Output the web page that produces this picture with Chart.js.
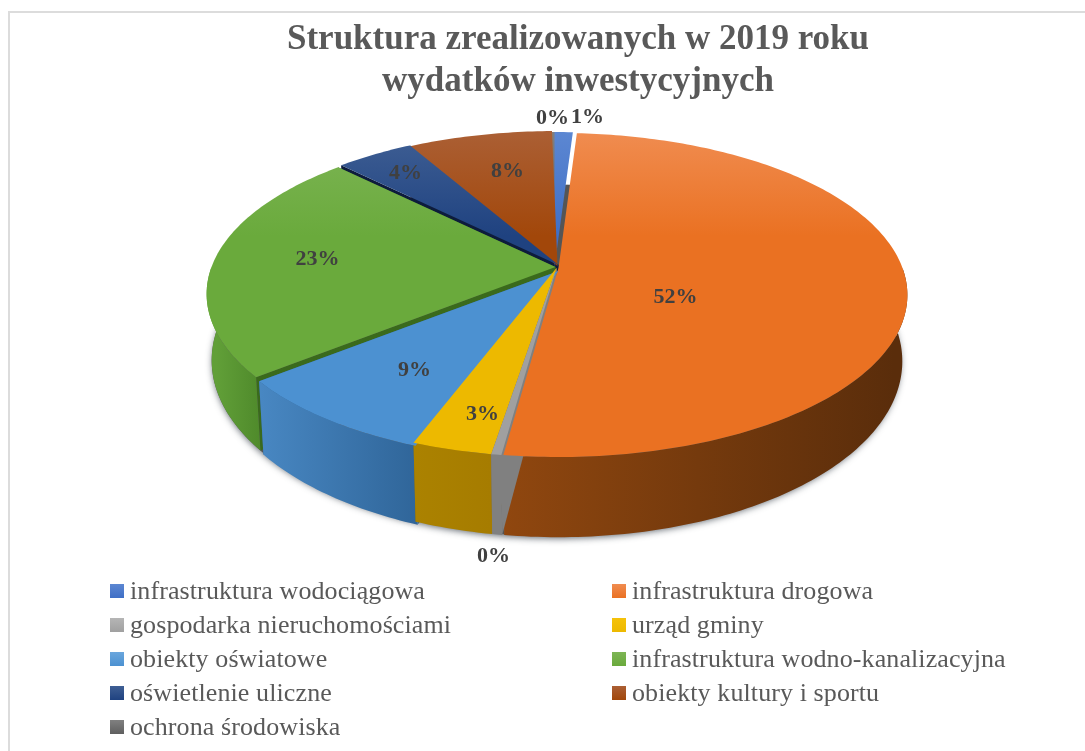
<!DOCTYPE html>
<html lang="pl"><head><meta charset="utf-8">
<style>html,body{margin:0;padding:0;background:#fff}canvas{display:block}</style>
<script src="https://cdn.jsdelivr.net/npm/chart.js@4"></script>
</head><body><canvas id="c" width="1085" height="751"></canvas>
<script>
const categories = ['infrastruktura wodociągowa','infrastruktura drogowa','gospodarka nieruchomościami','urząd gminy','obiekty oświatowe','infrastruktura wodno-kanalizacyjna','oświetlenie uliczne','obiekty kultury i sportu','ochrona środowiska'];
const shares = [1.0, 51.6, 0.4, 3.2, 8.6, 23.49, 4.3, 8.0, 0.3];
const titleLines = ['Struktura zrealizowanych w 2019 roku','wydatków inwestycyjnych'];

// styles
const topLight = ['#5c87d2','#f08c50','#b5b5b5','#f5c20a','#6aa6dd','#7db555','#3f5f94','#ab5f34','#808080'];
const topBase  = ['#3f6fc6','#ea7122','#a0a0a0','#edb900','#4c91d1','#6aaa3c','#1f4280','#a2470a','#5f5f5f'];
const wallLeft = ['#2f5597','#90470f','#808080','#ab8200','#4887c2','#619f38','#1a2f55','#6f3208','#444444'];
const wallRight= ['#2f5597','#5a2d0b','#808080','#a67c00','#30669a','#4f8a2b','#1a2f55','#6f3208','#444444'];
const cutWall  = ['#2a4a85','#7a7a7a','#808080','#8c6a00','#2f6190','#3a6a1c','#0d1c3c','#4f2406','#444444'];
const shift    = [[-1,0],[3,1],[1,1],[1,1],[3,4],[0,0],[3,-2],[2,-1],[0,0]];
const labelAnchor = [[32,-150],[120,30],[-62,289],[-73,147],[-141,103],[-238,-8],[-150,-94],[-48,-96],[-3,-149]];

// perspective of the top and the bottom disc of the drum
const P = 1/6;
const topDisc = {x:555.5, y:267, a:344, b:157.5};
const botDisc = {x:555.5, y:331, a:339, b:171};
const proj = (d,ang,r=1)=>{const u=r*Math.cos(ang),v=r*Math.sin(ang),w=1-P*v;return [d.x+d.a*u/w,d.y+d.b*v/w];};

function trace(ctx,d,a0,a1,dx,dy,first){
  const n=Math.max(2,Math.ceil(Math.abs(a1-a0)*60));
  for(let i=0;i<=n;i++){const p=proj(d,a0+(a1-a0)*i/n);
    if(i===0&&first)ctx.moveTo(p[0]+dx,p[1]+dy);else ctx.lineTo(p[0]+dx,p[1]+dy);}
}

const drum = {
  id:'drum',
  beforeDraw(chart){
    const ctx=chart.ctx;ctx.save();ctx.fillStyle='#dcdcdc';
    ctx.fillRect(8,11,2,740);ctx.fillRect(8,11,1077,2);ctx.restore();
  },
  beforeDatasetsDraw(chart){
    const ctx=chart.ctx, arcs=chart.getDatasetMeta(0).data;
    ctx.save();
    // soft shadow under the drum
    ctx.save();ctx.shadowColor='rgba(40,50,60,.75)';ctx.shadowBlur=7;ctx.shadowOffsetY=2;ctx.shadowOffsetX=1;
    ctx.fillStyle='#555';ctx.beginPath();trace(ctx,botDisc,0,Math.PI*2,0,0,true);ctx.closePath();ctx.fill();ctx.restore();
    ctx.fillStyle='#fff';
    ctx.beginPath();trace(ctx,botDisc,Math.PI,Math.PI*2,0,0,true);ctx.lineTo(...proj(topDisc,0));trace(ctx,topDisc,0,-Math.PI,0,0,false);ctx.closePath();ctx.fill();
    const order=arcs.map((a,i)=>i).sort((i,j)=>{
      const m=k=>Math.sin((arcs[k].startAngle+arcs[k].endAngle)/2);return m(i)-m(j);});
    // side walls
    for(const i of order){
      const {startAngle:s,endAngle:e}=arcs[i];const [dx,dy]=shift[i];
      for(const ang of [s,e]){
        if(Math.sin(ang)<-0.9)continue;
        ctx.beginPath();ctx.moveTo(topDisc.x+dx,topDisc.y+dy);
        let p=proj(topDisc,ang);ctx.lineTo(p[0]+dx,p[1]+dy);
        p=proj(botDisc,ang);ctx.lineTo(p[0]+dx,p[1]+dy);
        ctx.lineTo(botDisc.x+dx,botDisc.y+dy);ctx.closePath();
        ctx.fillStyle=cutWall[i];ctx.fill();
      }
      const a0=Math.max(s,0), a1=Math.min(e,Math.PI);
      if(a1>a0){
        const pa=proj(botDisc,a1),pb=proj(botDisc,a0);
        const g=ctx.createLinearGradient(pa[0],0,pb[0],0);
        g.addColorStop(0,wallLeft[i]);g.addColorStop(1,wallRight[i]);
        ctx.beginPath();trace(ctx,topDisc,a0,a1,dx,dy,true);trace(ctx,botDisc,a1,a0,dx,dy,false);ctx.closePath();
        ctx.fillStyle=g;ctx.fill();
      }
    }
    // top faces
    for(const i of order){
      const {startAngle:s,endAngle:e}=arcs[i];const [dx,dy]=shift[i];
      const g=ctx.createLinearGradient(0,132,0,300);
      g.addColorStop(0,topLight[i]);g.addColorStop(.62,topBase[i]);g.addColorStop(1,topBase[i]);
      ctx.beginPath();ctx.moveTo(topDisc.x+dx,topDisc.y+dy);trace(ctx,topDisc,s,e,dx,dy,false);ctx.closePath();
      ctx.fillStyle=g;ctx.fill();
    }
    // percentage labels
    ctx.font='bold 22px "Liberation Serif"';ctx.fillStyle='#404040';ctx.textAlign='center';ctx.textBaseline='middle';
    shares.forEach((v,i)=>ctx.fillText(Math.round(v)+'%',topDisc.x+labelAnchor[i][0],topDisc.y+labelAnchor[i][1]));
    // legend
    ctx.font='26px "Liberation Serif"';ctx.letterSpacing='0.1px';ctx.textAlign='left';
    categories.forEach((c,i)=>{
      const col=i%2,row=(i-col)/2,x=col?612:110,y=591+row*34;
      const g=ctx.createLinearGradient(0,y-7,0,y+7);g.addColorStop(0,topLight[i]);g.addColorStop(1,topBase[i]);
      ctx.fillStyle=g;ctx.fillRect(x,y-7,14,14);
      ctx.fillStyle='#595959';ctx.fillText(c,x+20,y+1);
    });
    ctx.letterSpacing='0px';
    ctx.restore();
    return false;
  }
};

new Chart(document.getElementById('c'),{
  type:'pie',
  data:{labels:categories,datasets:[{data:shares,backgroundColor:topBase,borderWidth:0}]},
  options:{
    responsive:false,animation:false,
    layout:{padding:{left:71,top:19}},
    plugins:{
      legend:{display:false},tooltip:{enabled:false},
      title:{display:true,text:titleLines,color:'#595959',padding:0,font:{family:'Liberation Serif',size:35,weight:'bold',lineHeight:1.2}}
    }
  },
  plugins:[drum]
});
</script></body></html>
